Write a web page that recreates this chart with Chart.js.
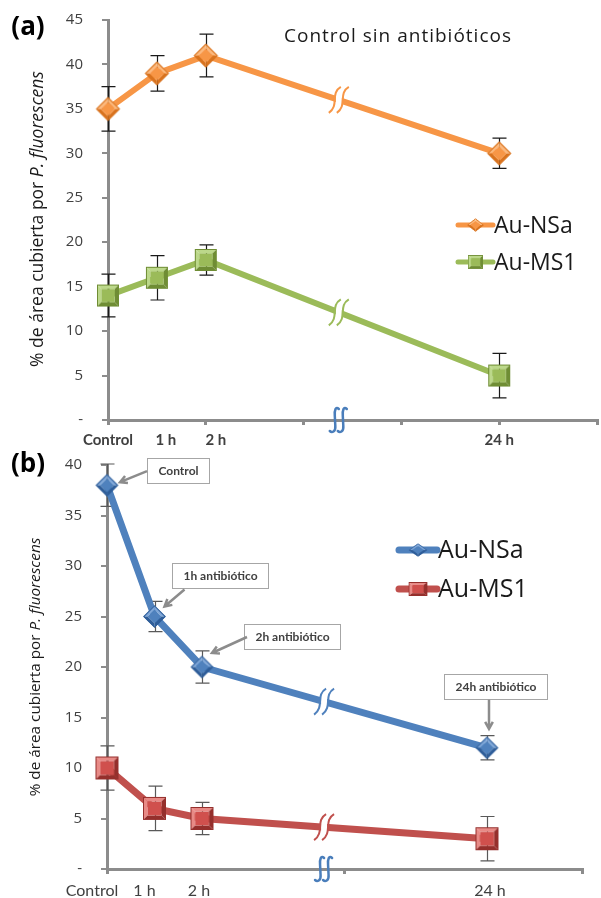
<!DOCTYPE html>
<html>
<head>
<meta charset="utf-8">
<script src="https://cdn.jsdelivr.net/npm/chart.js@4.4.1/dist/chart.umd.min.js"></script>
<style>
  html, body { margin: 0; padding: 0; background: #fff; overflow: hidden; width: 601px; height: 898px; }
  #wrapA { position: absolute; left: 0; top: 0; width: 615px; height: 445px; }
  #wrapB { position: absolute; left: 0; top: 445px; width: 601px; height: 453px; }
</style>
</head>
<body>
<div id="wrapA"><canvas id="chartA" width="615" height="445"></canvas></div>
<div id="wrapB"><canvas id="chartB" width="601" height="453"></canvas></div>
<script>
// categorias del eje X (los huecos son el tramo cortado entre 2 h y 24 h)
const categorias = ['Control', '1 h', '2 h', '', '', '', '', '', '24 h', '', ''];

// (a) Control sin antibioticos
const nsaA = [35, 39, 41, null, null, null, null, null, 30, null, null];
const ms1A = [14, 16, 18, null, null, null, null, null, 5, null, null];
const errNsaA = [2.5, 2.0, 2.4, null, null, null, null, null, 1.7, null, null];
const errMs1A = [2.4, 2.5, 1.7, null, null, null, null, null, 2.5, null, null];

// (b) con antibiotico
const nsaB = [38, 25, 20, null, null, null, null, null, 12, null, null];
const ms1B = [10, 6, 5, null, null, null, null, null, 3, null, null];
const errNsaB = [2.1, 1.5, 1.6, null, null, null, null, null, 1.2, null, null];
const errMs1B = [2.2, 2.2, 1.6, null, null, null, null, null, 2.2, null, null];
const notasB = ['Control', '1h antibiótico', '2h antibiótico', null, null, null, null, null, '24h antibiótico', null, null];

const series = ['Au-NSa', 'Au-MS1'];
const tituloA = 'Control sin antibióticos';
const ejeY1 = '% de área cubierta por ';
const ejeY2 = 'P. fluorescens';

const gris = '#8c8c8c';
const texto = '#404040';

// marcador con bisel tipo Excel
function bevelMarker(shape, side, base, light, dark) {
    const diag = shape === 'diamond';
    const S = Math.ceil(diag ? side * Math.SQRT2 : side) + 4;
    const c = document.createElement('canvas');
    c.width = S; c.height = S;
    const g = c.getContext('2d');
    g.translate(S / 2, S / 2);
    if (diag) g.rotate(Math.PI / 4);
    const h = side / 2, b = side * 0.2;
    const quad = (p, col) => {
        g.beginPath(); g.moveTo(p[0], p[1]);
        for (let k = 2; k < p.length; k += 2) g.lineTo(p[k], p[k + 1]);
        g.closePath(); g.fillStyle = col; g.fill();
    };
    quad([-h, -h, h, -h, h - b, -h + b, -h + b, -h + b], light);
    quad([-h, -h, -h + b, -h + b, -h + b, h - b, -h, h], light);
    quad([h, -h, h, h, h - b, h - b, h - b, -h + b], dark);
    quad([-h, h, h, h, h - b, h - b, -h + b, h - b], dark);
    g.fillStyle = base; g.fillRect(-h + b, -h + b, side - 2 * b, side - 2 * b);
    g.strokeStyle = dark; g.lineWidth = 1; g.strokeRect(-h + 0.5, -h + 0.5, side - 1, side - 1);
    return c;
}

const mkOrange = bevelMarker('diamond', 17, '#F79646', '#FBB97E', '#D9731E');
const mkGreen = bevelMarker('square', 22, '#9BBB59', '#BCD88A', '#6F8D34');
const mkBlue = bevelMarker('diamond', 16, '#4F81BD', '#7EA6D8', '#2F5E99');
const mkRed = bevelMarker('square', 23, '#D0504D', '#E88A86', '#952F2C');

function wavy(ctx, x, y, h) {
    ctx.beginPath();
    ctx.moveTo(x + 6, y - h);
    ctx.bezierCurveTo(x - 5, y - h * 0.5, x + 5, y + h * 0.4, x - 6, y + h);
    ctx.stroke();
}

function integral(ctx, x, y) {
    ctx.beginPath();
    ctx.moveTo(x + 4, y - 11);
    ctx.bezierCurveTo(x + 1, y - 14, x - 0.5, y - 10, x, y - 4);
    ctx.lineTo(x + 0.5, y + 6);
    ctx.bezierCurveTo(x + 1, y + 12, x - 3, y + 13, x - 5, y + 11);
    ctx.stroke();
}

function arrow(ctx, x0, y0, x1, y1) {
    const a = Math.atan2(y1 - y0, x1 - x0);
    ctx.beginPath();
    ctx.moveTo(x0, y0); ctx.lineTo(x1, y1);
    ctx.moveTo(x1 - 8 * Math.cos(a - 0.5), y1 - 8 * Math.sin(a - 0.5));
    ctx.lineTo(x1, y1);
    ctx.lineTo(x1 - 8 * Math.cos(a + 0.5), y1 - 8 * Math.sin(a + 0.5));
    ctx.stroke();
}

function decor(cfg) {
    return {
        id: 'decor',
        beforeDatasetsDraw(chart) {
            // barras de error
            const ctx = chart.ctx, xs = chart.scales.x, ys = chart.scales.y;
            ctx.save();
            ctx.strokeStyle = cfg.errColor; ctx.lineWidth = 1.2;
            chart.data.datasets.forEach((ds, di) => {
                ds.data.forEach((v, i) => {
                    const e = cfg.errors[di][i];
                    if (v == null || e == null) return;
                    const px = Math.round(xs.getPixelForValue(i)) + 0.5;
                    const yt = ys.getPixelForValue(v + e), yb = ys.getPixelForValue(v - e);
                    ctx.beginPath();
                    ctx.moveTo(px, yt); ctx.lineTo(px, yb);
                    ctx.moveTo(px - 7, yt); ctx.lineTo(px + 7, yt);
                    ctx.moveTo(px - 7, yb); ctx.lineTo(px + 7, yb);
                    ctx.stroke();
                });
            });
            ctx.restore();
        },
        afterDatasetsDraw(chart) {
            const ctx = chart.ctx, xs = chart.scales.x, ys = chart.scales.y;
            const f = cfg.breakAt;
            const bx = xs.getPixelForValue(f);
            ctx.save();
            chart.data.datasets.forEach((ds) => {
                const v = ds.data[2] + (ds.data[8] - ds.data[2]) * (f - 2) / 6;
                const by = ys.getPixelForValue(v);
                ctx.strokeStyle = '#fff'; ctx.lineWidth = ds.borderWidth + 3;
                ctx.beginPath(); ctx.moveTo(bx - 3, by); ctx.lineTo(bx + 3, by); ctx.stroke();
                ctx.strokeStyle = ds.borderColor; ctx.lineWidth = 2;
                wavy(ctx, bx - 4, by, 13);
                wavy(ctx, bx + 4, by, 13);
            });
            // corte en el eje X
            ctx.strokeStyle = '#4a7ebb'; ctx.lineWidth = 2.5; ctx.lineCap = 'round';
            const ay = chart.chartArea.bottom;
            integral(ctx, bx - 4, ay);
            integral(ctx, bx + 4, ay);
            ctx.restore();
        },
        afterDraw(chart) {
            const ctx = chart.ctx, xs = chart.scales.x, ys = chart.scales.y;
            ctx.save();
            // etiquetas del eje X
            ctx.fillStyle = texto; ctx.font = cfg.xFont;
            ctx.textAlign = 'center'; ctx.textBaseline = 'middle';
            categorias.forEach((c, i) => {
                if (!c) return;
                ctx.fillText(c, xs.getPixelForValue(i) + cfg.xShift[i], cfg.xLabelY);
            });
            // titulo del eje Y
            ctx.save();
            ctx.translate(cfg.yTitle.x, cfg.yTitle.y);
            ctx.rotate(-Math.PI / 2);
            const f1 = cfg.yTitle.size + 'px "Open Sans"', f2 = 'italic ' + cfg.yTitle.size + 'px "Open Sans"';
            ctx.font = f1; const w1 = ctx.measureText(ejeY1).width;
            ctx.font = f2; const w2 = ctx.measureText(ejeY2).width;
            ctx.fillStyle = '#1a1a1a'; ctx.textAlign = 'left';
            ctx.font = f1; ctx.fillText(ejeY1, -(w1 + w2) / 2, 0);
            ctx.font = f2; ctx.fillText(ejeY2, -(w1 + w2) / 2 + w1, 0);
            ctx.restore();
            // (a) / (b)
            ctx.fillStyle = '#000'; ctx.font = 'bold 26px "Open Sans"'; ctx.textAlign = 'center';
            ctx.fillText(cfg.panel, 28, cfg.panelY);
            // titulo
            if (cfg.title) {
                ctx.save();
                ctx.fillStyle = '#1a1a1a'; ctx.font = '19px "Open Sans"';
                ctx.letterSpacing = '1px';
                ctx.fillText(cfg.title, 398, 37);
                ctx.restore();
            }
            // leyenda
            const L = cfg.legend;
            chart.data.datasets.forEach((ds, di) => {
                const y = L.y + di * L.dy;
                ctx.strokeStyle = ds.borderColor; ctx.lineWidth = L.lw; ctx.lineCap = 'round';
                ctx.beginPath(); ctx.moveTo(L.x0, y); ctx.lineTo(L.x1, y); ctx.stroke();
                const mw = L.mw[di], mh = L.mh[di];
                ctx.drawImage(ds.pointStyle, (L.x0 + L.x1) / 2 - mw / 2, y - mh / 2, mw, mh);
                ctx.fillStyle = '#1a1a1a'; ctx.font = L.font; ctx.textAlign = 'left';
                ctx.fillText(ds.label, L.x1 + 1, y + 1);
            });
            // notas con flecha
            if (cfg.notes) {
                const ds = chart.data.datasets[0];
                cfg.notes.forEach((n, i) => {
                    if (!n) return;
                    const p = cfg.noteLayout[i];
                    const px = xs.getPixelForValue(i), py = ys.getPixelForValue(ds.data[i]);
                    ctx.font = 'bold 12px Lato';
                    const w = Math.round(ctx.measureText(n).width + 22);
                    const bx = Math.round(px + p.bx) + 0.5, by = Math.round(py + p.by) + 0.5;
                    ctx.fillStyle = '#fff'; ctx.fillRect(bx, by, w, 25);
                    ctx.strokeStyle = '#a6a6a6'; ctx.lineWidth = 1; ctx.strokeRect(bx, by, w, 25);
                    ctx.fillStyle = texto; ctx.textAlign = 'center';
                    ctx.fillText(n, bx + w / 2, by + 13);
                    ctx.strokeStyle = '#8c8c8c'; ctx.lineWidth = 2.5; ctx.lineCap = 'butt';
                    arrow(ctx, px + p.a[0], py + p.a[1], px + p.a[2], py + p.a[3]);
                });
            }
            ctx.restore();
        }
    };
}

function makeChart(id, cfg) {
    return new Chart(document.getElementById(id), {
        type: 'line',
        data: {
            labels: categorias,
            datasets: cfg.datasets
        },
        options: {
            responsive: false,
            animation: false,
            devicePixelRatio: 1,
            layout: { padding: cfg.padding },
            plugins: { legend: { display: false }, tooltip: { enabled: false } },
            scales: {
                x: {
                    ticks: { display: false },
                    grid: {
                        drawOnChartArea: false, drawTicks: true, tickLength: 5, lineWidth: 3,
                        color: (c) => c.index % cfg.xTickEvery === 0 ? gris : 'rgba(0,0,0,0)'
                    },
                    border: { color: gris, width: 3 },
                    afterFit: (s) => { s.height = cfg.xHeight; }
                },
                y: {
                    min: 0, max: cfg.yMax,
                    ticks: {
                        stepSize: 5, padding: 19, color: texto,
                        font: { family: 'Open Sans', size: 15 },
                        callback: (v) => v === 0 ? '-' : v
                    },
                    grid: { drawOnChartArea: false, drawTicks: true, tickLength: 6, lineWidth: 2, color: gris },
                    border: { color: gris, width: 3 },
                    // el padding de las etiquetas no debe empujar el area del grafico
                    afterFit: (s) => { s.width = cfg.yWidth; s.paddingTop = 0; s.paddingBottom = 0; }
                }
            }
        },
        plugins: [decor(cfg.decor)]
    });
}

makeChart('chartA', {
    datasets: [
        { label: series[0], data: nsaA, borderColor: '#F79646', borderWidth: 6, pointStyle: mkOrange, pointRadius: 12, spanGaps: true, tension: 0 },
        { label: series[1], data: ms1A, borderColor: '#9BBB59', borderWidth: 6, pointStyle: mkGreen, pointRadius: 12, spanGaps: true, tension: 0 }
    ],
    padding: { left: 0, top: 20, right: 7, bottom: 0 },
    xTickEvery: 2, xHeight: 25, yWidth: 108, yMax: 45,
    decor: {
        errors: [errNsaA, errMs1A], errColor: '#1a1a1a',
        breakAt: 4.72,
        xFont: 'bold 15px Lato', xLabelY: 440,
        xShift: [0, 9, 10, 0, 0, 0, 0, 0, 0, 0, 0],
        yTitle: { x: 38, y: 219, size: 17.5 },
        panel: '(a)', panelY: 28,
        title: tituloA,
        legend: { x0: 458, x1: 493, y: 225, dy: 37, lw: 5, mw: [20, 18], mh: [16, 16], font: '23px "Open Sans"' }
    }
});

makeChart('chartB', {
    datasets: [
        { label: series[0], data: nsaB, borderColor: '#4F81BD', borderWidth: 7, pointStyle: mkBlue, pointRadius: 12, spanGaps: true, tension: 0 },
        { label: series[1], data: ms1B, borderColor: '#C0504D', borderWidth: 7, pointStyle: mkRed, pointRadius: 12, spanGaps: true, tension: 0 }
    ],
    padding: { left: 0, top: 20, right: 19, bottom: 0 },
    xTickEvery: 5, xHeight: 29, yWidth: 107, yMax: 40,
    decor: {
        errors: [errNsaB, errMs1B], errColor: '#595959',
        breakAt: 4.57,
        xFont: '16px Lato', xLabelY: 446,
        xShift: [-15, -10, -3, 0, 0, 0, 0, 0, 3, 0, 0],
        yTitle: { x: 36, y: 222, size: 15.3 },
        panel: '(b)', panelY: 20,
        title: null,
        legend: { x0: 399, x1: 437, y: 105, dy: 39, lw: 7, mw: [22, 22], mh: [16, 16], font: '25px "Open Sans"' },
        notes: notasB,
        noteLayout: {
            0: { bx: 40, by: -27, a: [40, -14, 13, -3] },
            1: { bx: 17, by: -54, a: [30, -27, 10, -10] },
            2: { bx: 42, by: -43, a: [45, -30, 10, -14] },
            8: { bx: -43, by: -74, a: [2, -48, 2, -19] }
        }
    }
});
</script>
</body>
</html>
